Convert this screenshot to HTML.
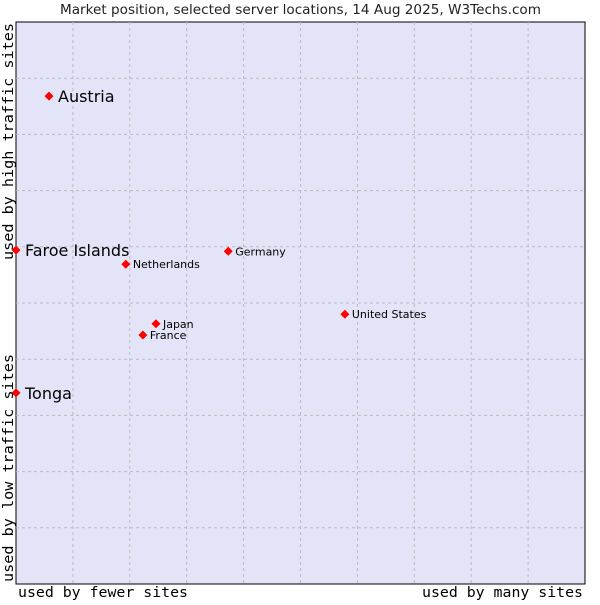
<!DOCTYPE html>
<html><head><meta charset="utf-8"><style>
body{margin:0;background:#fff;}
svg text{font-family:"DejaVu Sans","Liberation Sans",sans-serif;}
.mono{font-family:"DejaVu Sans Mono","Liberation Mono",monospace;}
</style></head><body>
<svg id="chart" width="600" height="600">
<text x="60" y="14" textLength="481" lengthAdjust="spacingAndGlyphs" font-size="13" fill="#222">Market position, selected server locations, 14 Aug 2025, W3Techs.com</text>
<rect x="16" y="22" width="569" height="562" fill="#e4e4f8" stroke="#000" stroke-width="1"/>
<g id="grid"></g>
<g id="points"></g>
<text class="mono" x="18" y="597" textLength="170" lengthAdjust="spacingAndGlyphs" font-size="14" fill="#000">used by fewer sites</text>
<text class="mono" x="422" y="597" textLength="161" lengthAdjust="spacingAndGlyphs" font-size="14" fill="#000">used by many sites</text>
<text class="mono" transform="translate(13,582) rotate(-90)" textLength="228" lengthAdjust="spacingAndGlyphs" font-size="14" fill="#000">used by low traffic sites</text>
<text class="mono" transform="translate(13,260) rotate(-90)" textLength="237" lengthAdjust="spacingAndGlyphs" font-size="14" fill="#000">used by high traffic sites</text>
</svg>
<script>
const names=["Austria","Faroe Islands","Tonga","Netherlands","Germany","United States","Japan","France"];
const xVals=[5.8,0,0,19.3,37.3,57.8,24.6,22.3];
const yVals=[86.8,59.4,34.0,56.9,59.2,48.0,46.3,44.3];
const big=[true,true,true,false,false,false,false,false];
const X0=16,W=569,Y0=22,H=562;
const sx=v=>X0+v/100*W, sy=v=>Y0+H-v/100*H;
const ns="http://www.w3.org/2000/svg";
const grid=document.getElementById('grid');
for(let k=1;k<10;k++){
 const l=document.createElementNS(ns,'line');
 
 
 l.setAttribute('x1',sx(k*10));l.setAttribute('x2',sx(k*10));l.setAttribute('y1',Y0);l.setAttribute('y2',Y0+H);
 l.setAttribute('stroke','#bbb');l.setAttribute('stroke-dasharray','3,3');grid.appendChild(l);
 const h=document.createElementNS(ns,'line');
 
 
 h.setAttribute('y1',sy(k*10));h.setAttribute('y2',sy(k*10));h.setAttribute('x1',X0);h.setAttribute('x2',X0+W);
 h.setAttribute('stroke','#bbb');h.setAttribute('stroke-dasharray','3,3');grid.appendChild(h);
}
const pts=document.getElementById('points');
names.forEach((n,i)=>{
 const x=sx(xVals[i]),y=sy(yVals[i]);
 const g=document.createElementNS(ns,'g');
 
 
 const c=document.createElementNS(ns,'path');
 c.setAttribute('d',`M${x-4.5},${y}L${x},${y-4.5}L${x+4.5},${y}L${x},${y+4.5}Z`);
 c.setAttribute('fill','#f00');g.appendChild(c);
 const t=document.createElementNS(ns,'text');
 t.setAttribute('x',x+(big[i]?9:7));t.setAttribute('y',y+(big[i]?6:4));
 t.setAttribute('font-size',big[i]?16:11);t.setAttribute('fill','#000');
 t.textContent=n;g.appendChild(t);
 pts.appendChild(g);
});
</script>
</body></html>
